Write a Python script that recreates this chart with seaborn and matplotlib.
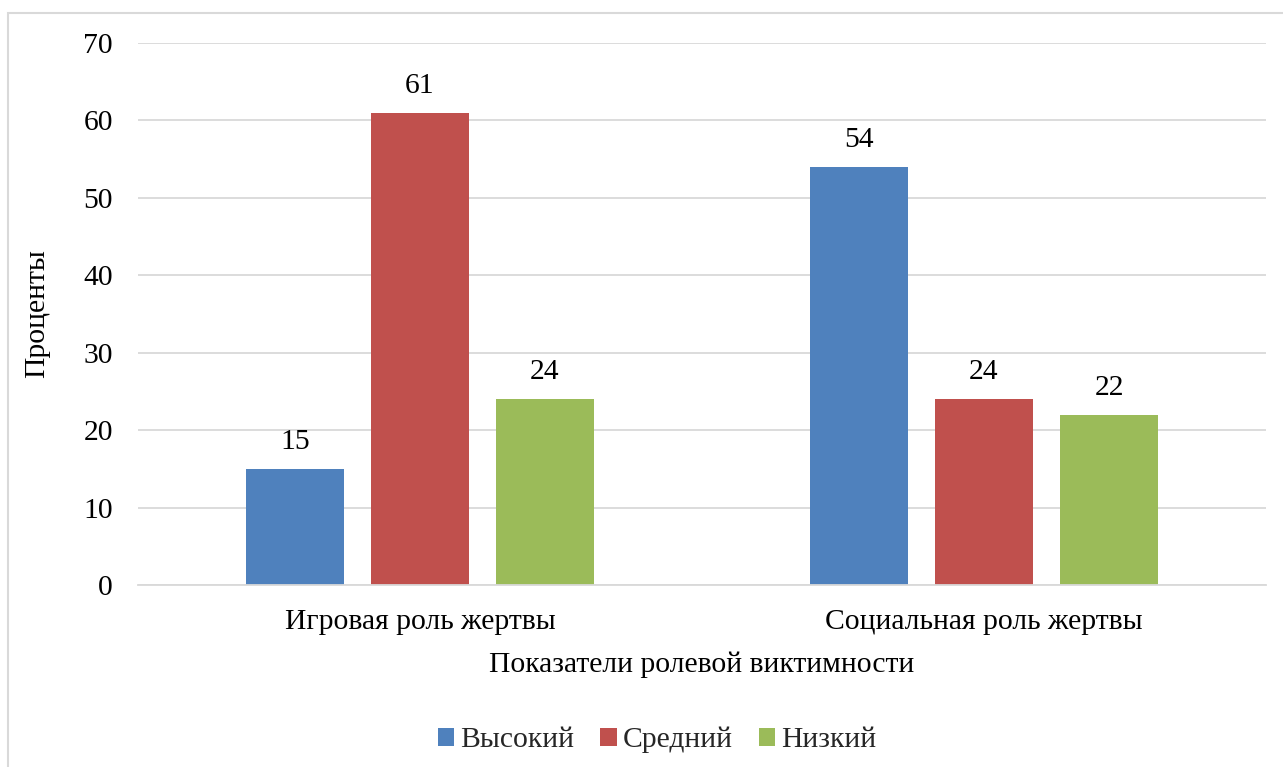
import matplotlib
matplotlib.use("Agg")
import matplotlib.pyplot as plt
from matplotlib.patches import Rectangle
import seaborn as sns
import pandas as pd

categories = ["Игровая роль жертвы", "Социальная роль жертвы"]
levels = ["Высокий", "Средний", "Низкий"]
high = [15, 54]
medium = [61, 24]
low = [24, 22]
colors = ["#4F81BD", "#C0504D", "#9BBB59"]
y_ticks = [0, 10, 20, 30, 40, 50, 60, 70]

rows = []
for lvl, vals in zip(levels, [high, medium, low]):
    for cat, v in zip(categories, vals):
        rows.append({"Показатель": cat, "Уровень": lvl, "Процент": v})
df = pd.DataFrame(rows)

sns.set_theme(style="white")
plt.rcParams["font.family"] = ["Liberation Serif", "DejaVu Serif"]

FS = 21.3
W, H = 1283, 767
fig = plt.figure(figsize=(W / 100, H / 100), dpi=100)
ax = fig.add_axes([138 / W, 1 - 585 / H, (1266 - 138) / W, (585 - 43) / H])

sns.barplot(data=df, x="Показатель", y="Процент", hue="Уровень",
            order=categories, hue_order=levels, palette=colors,
            width=0.665, gap=0.215, saturation=1, linewidth=0,
            ax=ax, legend=True)

ax.set_ylim(0, 70)
ax.set_xlim(-0.5, 1.5)
ax.set_yticks(y_ticks)
ax.yaxis.grid(True, color="#d9d9d9", linewidth=1.3)
ax.set_axisbelow(True)
for side in ["top", "right", "left"]:
    ax.spines[side].set_visible(False)
ax.spines["bottom"].set_color("#d9d9d9")
ax.spines["bottom"].set_linewidth(1.3)
ax.tick_params(axis="both", length=0, labelsize=FS, colors="black")
ax.tick_params(axis="y", pad=18)
ax.tick_params(axis="x", pad=17)

for cont in ax.containers:
    ax.bar_label(cont, fmt="%d", padding=10, fontsize=FS, color="black")

ax.set_ylabel("Проценты", fontsize=FS, color="black")
ax.yaxis.set_label_coords((50 - 138) / 1128, 0.5)
ax.set_xlabel("Показатели ролевой виктимности", fontsize=FS, color="black", labelpad=12)

handles, labels = ax.get_legend_handles_labels()
ax.legend_.remove()
fig.legend(handles, labels, loc="center", bbox_to_anchor=(657 / W, 1 - 740 / H),
           ncol=3, frameon=False, fontsize=FS, handlelength=0.55, handleheight=0.55,
           handletextpad=0.2, columnspacing=0.9)

fig.add_artist(Rectangle((8 / W, -0.2), 1.2, 1.2 - 13 / H, transform=fig.transFigure,
                         fill=False, edgecolor="#d9d9d9", linewidth=1.5))

fig.savefig("out.png", dpi=100)
